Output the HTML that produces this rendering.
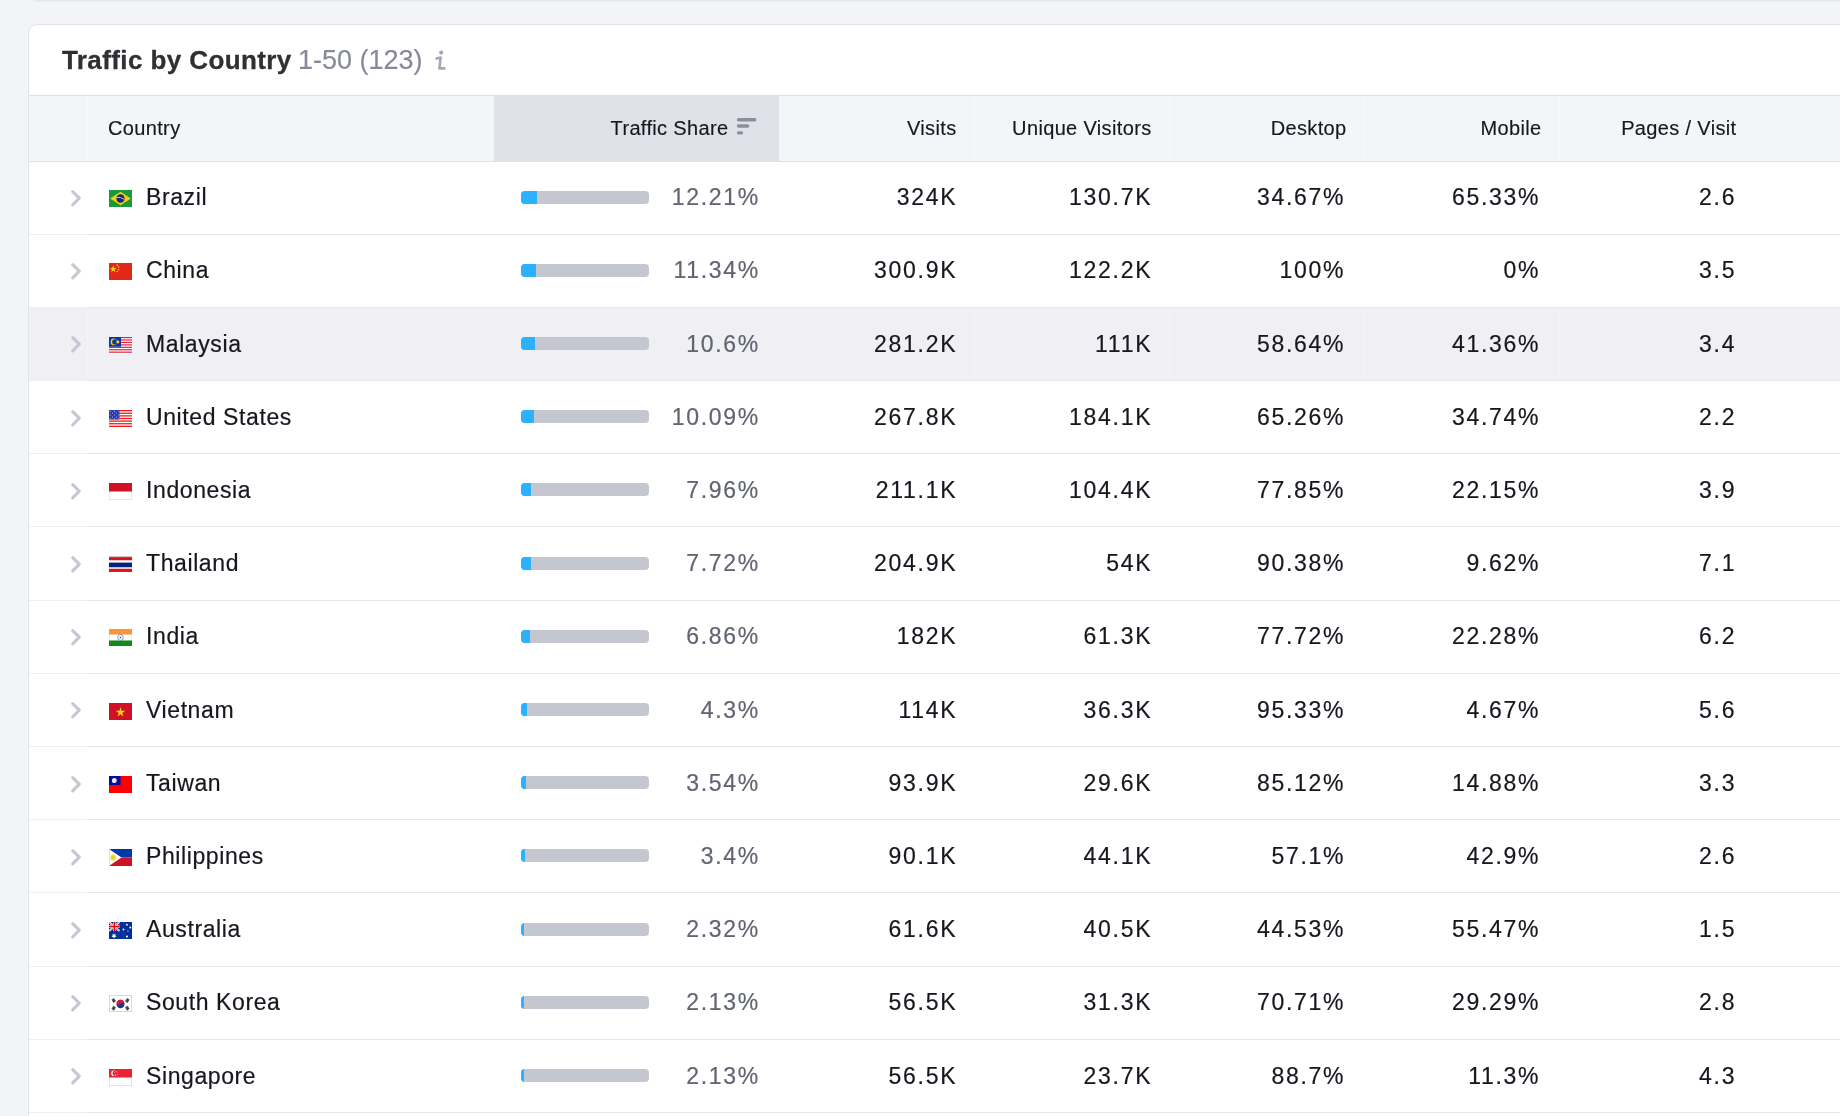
<!DOCTYPE html>
<html><head><meta charset="utf-8">
<style>
*{margin:0;padding:0;box-sizing:border-box}
html,body{width:1840px;height:1116px;overflow:hidden;background:#f3f4f8;}
.wrap{position:absolute;left:0;top:0;width:1840px;height:1116px;overflow:hidden;will-change:transform;font-family:"Liberation Sans",sans-serif;color:#17181f}
.abs{position:absolute}
.topcard{position:absolute;left:28px;top:-30px;width:1900px;height:30px;background:#f1f2f6;border-radius:9px;box-shadow:0 1px 2px rgba(60,70,100,.10)}
.card{position:absolute;left:28px;top:24px;width:1900px;height:1200px;background:#fff;border:1px solid #e2e3ea;border-radius:9px}
.t{position:absolute;white-space:nowrap;line-height:1}
.title{left:62px;top:46.5px;font-size:26px;font-weight:bold;color:#2f3033;letter-spacing:0.4px;-webkit-text-stroke:0.3px currentColor}
.sub{left:298px;top:46.6px;font-size:27px;color:#868a98;letter-spacing:0px;-webkit-text-stroke:0.15px currentColor}
.hdr{position:absolute;left:29px;top:95px;width:1811px;height:67px;background:#f4f5f9;border-top:1px solid #e0e1e8;border-bottom:1px solid #e0e1e8}
.hsort{position:absolute;left:494px;top:96px;width:285px;height:65px;background:#e1e1ea}
.hdiv{position:absolute;top:96px;width:1px;height:65px;background:#f9f9fb}
.ht{position:absolute;font-size:20px;line-height:20px;top:118px;color:#17181f;white-space:nowrap;letter-spacing:0.35px;-webkit-text-stroke:0.15px currentColor}
.row{position:absolute;left:29px;width:1811px}
.line{position:absolute;left:29px;width:1811px;height:1px;background:linear-gradient(90deg,#eeeff3 0,#eeeff3 58px,#e6e7ec 58px)}
.rdiv{position:absolute;width:1px;background:#f4f4f7}
.ct{position:absolute;font-size:23px;line-height:23px;white-space:nowrap;color:#17181f;-webkit-text-stroke:0.2px currentColor}
.num{text-align:right;width:200px;letter-spacing:1.7px}
.pct{color:#616572}
.bar{position:absolute;left:521px;width:128px;height:13px;border-radius:4px;background:#c4c7cf;overflow:hidden}
.bar i{position:absolute;left:0;top:0;bottom:0;background:#2bb1fe}
.flag{position:absolute;left:109px}
.chev{position:absolute;left:69px}
</style></head><body><div class="wrap">
<div class="topcard"></div>
<div class="card"></div>
<div class="t title">Traffic by Country</div>
<div class="t sub">1-50 (123)</div>
<svg class="abs" style="left:432px;top:49px" width="16" height="24" viewBox="0 0 16 24"><circle cx="9.2" cy="3.6" r="2.1" fill="#a3a7b3"/><path d="M4.6,9.6 L8.6,8.6 L7.4,19.4 L12.4,19.4" fill="none" stroke="#a3a7b3" stroke-width="2.6" stroke-linejoin="round" stroke-linecap="round"/></svg>
<div class="hdr"></div>
<div class="hsort"></div>

<div class="hdiv" style="left:87px"></div>
<div class="hdiv" style="left:974px"></div>
<div class="hdiv" style="left:1169px"></div>
<div class="hdiv" style="left:1364px"></div>
<div class="hdiv" style="left:1559px"></div>
<div class="hdiv" style="left:1754px"></div>
<div class="ht" style="left:108px">Country</div>
<div class="ht" style="left:528.5px;width:200px;text-align:right">Traffic Share</div>
<svg class="abs" style="left:735px;top:116px" width="24" height="20" viewBox="0 0 24 20"><g stroke="#8b8f9b" stroke-width="3.4" stroke-linecap="round"><line x1="3.5" y1="3.7" x2="19.7" y2="3.7"/><line x1="3.5" y1="10" x2="12.6" y2="10"/><line x1="3.5" y1="16.9" x2="6.4" y2="16.9"/></g></svg>
<div class="ht" style="left:656.5px;width:300px;text-align:right">Visits</div>
<div class="ht" style="left:851.5px;width:300px;text-align:right">Unique Visitors</div>
<div class="ht" style="left:1046.5px;width:300px;text-align:right">Desktop</div>
<div class="ht" style="left:1241.5px;width:300px;text-align:right">Mobile</div>
<div class="ht" style="left:1436.5px;width:300px;text-align:right">Pages / Visit</div>
<div class="line" style="top:233.50px"></div>
<svg class="chev" style="top:187.90px" width="14" height="19" viewBox="0 0 14 19"><path d="M3.7,3.6 L10.3,10.2 L3.7,16.8" fill="none" stroke="#c4c8d2" stroke-width="3.1" stroke-linecap="round" stroke-linejoin="round"/></svg>
<svg class="flag" style="top:190.20px" width="23" height="17" viewBox="0 0 23 16" preserveAspectRatio="none"><rect width="23" height="16" fill="#189a3a"/><polygon points="11.5,1.6 21.8,8 11.5,14.4 1.2,8" fill="#f8cf0e"/><circle cx="11.5" cy="8" r="4.1" fill="#1a237e"/><path d="M7.6,7 Q11.5,6.2 15.2,8.8" stroke="#b9cde6" stroke-width="0.9" fill="none"/></svg>
<div class="ct" style="left:146px;top:186.20px;letter-spacing:0.6px">Brazil</div>
<div class="bar" style="top:190.50px"><i style="width:15.63px"></i></div>
<div class="ct num pct" style="left:559.9px;top:186.20px">12.21%</div>
<div class="ct num" style="left:757.2px;top:186.20px">324K</div>
<div class="ct num" style="left:952.2px;top:186.20px">130.7K</div>
<div class="ct num" style="left:1145.2px;top:186.20px">34.67%</div>
<div class="ct num" style="left:1340.2px;top:186.20px">65.33%</div>
<div class="ct num" style="left:1536.2px;top:186.20px">2.6</div>
<div class="line" style="top:306.70px"></div>
<svg class="chev" style="top:261.10px" width="14" height="19" viewBox="0 0 14 19"><path d="M3.7,3.6 L10.3,10.2 L3.7,16.8" fill="none" stroke="#c4c8d2" stroke-width="3.1" stroke-linecap="round" stroke-linejoin="round"/></svg>
<svg class="flag" style="top:263.40px" width="23" height="17" viewBox="0 0 23 16" preserveAspectRatio="none"><rect width="23" height="16" fill="#e0281a"/><polygon points="4.2,2.2 5,4.6 7.5,4.6 5.5,6.1 6.3,8.5 4.2,7 2.1,8.5 2.9,6.1 0.9,4.6 3.4,4.6" fill="#ffde00"/><circle cx="8.2" cy="2" r="0.8" fill="#ffb400"/><circle cx="9.6" cy="3.7" r="0.8" fill="#ffb400"/><circle cx="9.6" cy="6.2" r="0.8" fill="#ffb400"/><circle cx="8.2" cy="8" r="0.8" fill="#ffb400"/></svg>
<div class="ct" style="left:146px;top:259.40px;letter-spacing:0.6px">China</div>
<div class="bar" style="top:263.70px"><i style="width:14.52px"></i></div>
<div class="ct num pct" style="left:559.9px;top:259.40px">11.34%</div>
<div class="ct num" style="left:757.2px;top:259.40px">300.9K</div>
<div class="ct num" style="left:952.2px;top:259.40px">122.2K</div>
<div class="ct num" style="left:1145.2px;top:259.40px">100%</div>
<div class="ct num" style="left:1340.2px;top:259.40px">0%</div>
<div class="ct num" style="left:1536.2px;top:259.40px">3.5</div>
<div class="row" style="top:307.70px;height:72.20px;background:#efeff4"></div>
<div class="line" style="top:379.90px"></div>
<div class="rdiv" style="left:87px;top:307.70px;height:72.20px"></div>
<div class="rdiv" style="left:974px;top:307.70px;height:72.20px"></div>
<div class="rdiv" style="left:1169px;top:307.70px;height:72.20px"></div>
<div class="rdiv" style="left:1364px;top:307.70px;height:72.20px"></div>
<div class="rdiv" style="left:1559px;top:307.70px;height:72.20px"></div>
<div class="rdiv" style="left:1754px;top:307.70px;height:72.20px"></div>
<svg class="chev" style="top:334.30px" width="14" height="19" viewBox="0 0 14 19"><path d="M3.7,3.6 L10.3,10.2 L3.7,16.8" fill="none" stroke="#c4c8d2" stroke-width="3.1" stroke-linecap="round" stroke-linejoin="round"/></svg>
<svg class="flag" style="top:336.60px" width="23" height="17" viewBox="0 0 23 16" preserveAspectRatio="none"><rect width="23" height="16" fill="#fff"/><rect y="0.00" width="23" height="1.14" fill="#dc2340"/><rect y="2.29" width="23" height="1.14" fill="#dc2340"/><rect y="4.57" width="23" height="1.14" fill="#dc2340"/><rect y="6.86" width="23" height="1.14" fill="#dc2340"/><rect y="9.14" width="23" height="1.14" fill="#dc2340"/><rect y="11.43" width="23" height="1.14" fill="#dc2340"/><rect y="13.71" width="23" height="1.14" fill="#dc2340"/><rect width="12" height="9.2" fill="#0b36a8"/><circle cx="4.8" cy="4.6" r="3.2" fill="#ffd000"/><circle cx="5.8" cy="4.6" r="2.6" fill="#0b36a8"/><circle cx="8.8" cy="4.6" r="1.5" fill="#ffd000"/></svg>
<div class="ct" style="left:146px;top:332.60px;letter-spacing:0.6px">Malaysia</div>
<div class="bar" style="top:336.90px"><i style="width:13.57px"></i></div>
<div class="ct num pct" style="left:559.9px;top:332.60px">10.6%</div>
<div class="ct num" style="left:757.2px;top:332.60px">281.2K</div>
<div class="ct num" style="left:952.2px;top:332.60px">111K</div>
<div class="ct num" style="left:1145.2px;top:332.60px">58.64%</div>
<div class="ct num" style="left:1340.2px;top:332.60px">41.36%</div>
<div class="ct num" style="left:1536.2px;top:332.60px">3.4</div>
<div class="line" style="top:453.10px"></div>
<svg class="chev" style="top:407.50px" width="14" height="19" viewBox="0 0 14 19"><path d="M3.7,3.6 L10.3,10.2 L3.7,16.8" fill="none" stroke="#c4c8d2" stroke-width="3.1" stroke-linecap="round" stroke-linejoin="round"/></svg>
<svg class="flag" style="top:409.80px" width="23" height="17" viewBox="0 0 23 16" preserveAspectRatio="none"><rect width="23" height="16" fill="#fff"/><rect y="0.00" width="23" height="1.23" fill="#f21c1c"/><rect y="2.46" width="23" height="1.23" fill="#f21c1c"/><rect y="4.92" width="23" height="1.23" fill="#f21c1c"/><rect y="7.38" width="23" height="1.23" fill="#f21c1c"/><rect y="9.85" width="23" height="1.23" fill="#f21c1c"/><rect y="12.31" width="23" height="1.23" fill="#f21c1c"/><rect y="14.77" width="23" height="1.23" fill="#f21c1c"/><rect width="10.5" height="9" fill="#2b3aa8"/><circle cx="1.20" cy="1.10" r="0.5" fill="#dfe3ff"/><circle cx="5.50" cy="1.10" r="0.5" fill="#dfe3ff"/><circle cx="9.80" cy="1.10" r="0.5" fill="#dfe3ff"/><circle cx="3.35" cy="2.90" r="0.5" fill="#dfe3ff"/><circle cx="7.65" cy="2.90" r="0.5" fill="#dfe3ff"/><circle cx="1.20" cy="4.70" r="0.5" fill="#dfe3ff"/><circle cx="5.50" cy="4.70" r="0.5" fill="#dfe3ff"/><circle cx="9.80" cy="4.70" r="0.5" fill="#dfe3ff"/><circle cx="3.35" cy="6.50" r="0.5" fill="#dfe3ff"/><circle cx="7.65" cy="6.50" r="0.5" fill="#dfe3ff"/><circle cx="1.20" cy="8.30" r="0.5" fill="#dfe3ff"/><circle cx="5.50" cy="8.30" r="0.5" fill="#dfe3ff"/><circle cx="9.80" cy="8.30" r="0.5" fill="#dfe3ff"/></svg>
<div class="ct" style="left:146px;top:405.80px;letter-spacing:0.6px">United States</div>
<div class="bar" style="top:410.10px"><i style="width:12.92px"></i></div>
<div class="ct num pct" style="left:559.9px;top:405.80px">10.09%</div>
<div class="ct num" style="left:757.2px;top:405.80px">267.8K</div>
<div class="ct num" style="left:952.2px;top:405.80px">184.1K</div>
<div class="ct num" style="left:1145.2px;top:405.80px">65.26%</div>
<div class="ct num" style="left:1340.2px;top:405.80px">34.74%</div>
<div class="ct num" style="left:1536.2px;top:405.80px">2.2</div>
<div class="line" style="top:526.30px"></div>
<svg class="chev" style="top:480.70px" width="14" height="19" viewBox="0 0 14 19"><path d="M3.7,3.6 L10.3,10.2 L3.7,16.8" fill="none" stroke="#c4c8d2" stroke-width="3.1" stroke-linecap="round" stroke-linejoin="round"/></svg>
<svg class="flag" style="top:483.00px" width="23" height="17" viewBox="0 0 23 16" preserveAspectRatio="none"><rect width="23" height="16" fill="#fff" stroke="#cfd2d9" stroke-width="1"/><rect width="23" height="8" fill="#d11124"/></svg>
<div class="ct" style="left:146px;top:479.00px;letter-spacing:0.6px">Indonesia</div>
<div class="bar" style="top:483.30px"><i style="width:10.19px"></i></div>
<div class="ct num pct" style="left:559.9px;top:479.00px">7.96%</div>
<div class="ct num" style="left:757.2px;top:479.00px">211.1K</div>
<div class="ct num" style="left:952.2px;top:479.00px">104.4K</div>
<div class="ct num" style="left:1145.2px;top:479.00px">77.85%</div>
<div class="ct num" style="left:1340.2px;top:479.00px">22.15%</div>
<div class="ct num" style="left:1536.2px;top:479.00px">3.9</div>
<div class="line" style="top:599.50px"></div>
<svg class="chev" style="top:553.90px" width="14" height="19" viewBox="0 0 14 19"><path d="M3.7,3.6 L10.3,10.2 L3.7,16.8" fill="none" stroke="#c4c8d2" stroke-width="3.1" stroke-linecap="round" stroke-linejoin="round"/></svg>
<svg class="flag" style="top:556.20px" width="23" height="17" viewBox="0 0 23 16" preserveAspectRatio="none"><rect width="23" height="16" fill="#fff"/><rect y="1" width="23" height="3" fill="#dd111a"/><rect y="12" width="23" height="3" fill="#dd111a"/><rect y="6.2" width="23" height="4.4" fill="#00237e"/><rect width="23" height="1" fill="#c9cbd2"/></svg>
<div class="ct" style="left:146px;top:552.20px;letter-spacing:0.6px">Thailand</div>
<div class="bar" style="top:556.50px"><i style="width:9.88px"></i></div>
<div class="ct num pct" style="left:559.9px;top:552.20px">7.72%</div>
<div class="ct num" style="left:757.2px;top:552.20px">204.9K</div>
<div class="ct num" style="left:952.2px;top:552.20px">54K</div>
<div class="ct num" style="left:1145.2px;top:552.20px">90.38%</div>
<div class="ct num" style="left:1340.2px;top:552.20px">9.62%</div>
<div class="ct num" style="left:1536.2px;top:552.20px">7.1</div>
<div class="line" style="top:672.70px"></div>
<svg class="chev" style="top:627.10px" width="14" height="19" viewBox="0 0 14 19"><path d="M3.7,3.6 L10.3,10.2 L3.7,16.8" fill="none" stroke="#c4c8d2" stroke-width="3.1" stroke-linecap="round" stroke-linejoin="round"/></svg>
<svg class="flag" style="top:629.40px" width="23" height="17" viewBox="0 0 23 16" preserveAspectRatio="none"><rect width="23" height="16" fill="#fff" stroke="#d4d6dc" stroke-width="0.8"/><rect width="23" height="5.2" fill="#ff9530"/><rect y="10.8" width="23" height="5.2" fill="#138a12"/><circle cx="11.5" cy="8" r="2.8" fill="none" stroke="#6b8fd8" stroke-width="0.9"/><circle cx="11.5" cy="8" r="0.8" fill="#2a4fb0"/></svg>
<div class="ct" style="left:146px;top:625.40px;letter-spacing:0.6px">India</div>
<div class="bar" style="top:629.70px"><i style="width:8.78px"></i></div>
<div class="ct num pct" style="left:559.9px;top:625.40px">6.86%</div>
<div class="ct num" style="left:757.2px;top:625.40px">182K</div>
<div class="ct num" style="left:952.2px;top:625.40px">61.3K</div>
<div class="ct num" style="left:1145.2px;top:625.40px">77.72%</div>
<div class="ct num" style="left:1340.2px;top:625.40px">22.28%</div>
<div class="ct num" style="left:1536.2px;top:625.40px">6.2</div>
<div class="line" style="top:745.90px"></div>
<svg class="chev" style="top:700.30px" width="14" height="19" viewBox="0 0 14 19"><path d="M3.7,3.6 L10.3,10.2 L3.7,16.8" fill="none" stroke="#c4c8d2" stroke-width="3.1" stroke-linecap="round" stroke-linejoin="round"/></svg>
<svg class="flag" style="top:702.60px" width="23" height="17" viewBox="0 0 23 16" preserveAspectRatio="none"><rect width="23" height="16" fill="#d01126"/><polygon points="11.5,3.8 12.6,7.2 16.2,7.2 13.3,9.3 14.4,12.6 11.5,10.6 8.6,12.6 9.7,9.3 6.8,7.2 10.4,7.2" fill="#ffd514"/></svg>
<div class="ct" style="left:146px;top:698.60px;letter-spacing:0.6px">Vietnam</div>
<div class="bar" style="top:702.90px"><i style="width:5.50px"></i></div>
<div class="ct num pct" style="left:559.9px;top:698.60px">4.3%</div>
<div class="ct num" style="left:757.2px;top:698.60px">114K</div>
<div class="ct num" style="left:952.2px;top:698.60px">36.3K</div>
<div class="ct num" style="left:1145.2px;top:698.60px">95.33%</div>
<div class="ct num" style="left:1340.2px;top:698.60px">4.67%</div>
<div class="ct num" style="left:1536.2px;top:698.60px">5.6</div>
<div class="line" style="top:819.10px"></div>
<svg class="chev" style="top:773.50px" width="14" height="19" viewBox="0 0 14 19"><path d="M3.7,3.6 L10.3,10.2 L3.7,16.8" fill="none" stroke="#c4c8d2" stroke-width="3.1" stroke-linecap="round" stroke-linejoin="round"/></svg>
<svg class="flag" style="top:775.80px" width="23" height="17" viewBox="0 0 23 16" preserveAspectRatio="none"><rect width="23" height="16" fill="#fe0000"/><rect width="11.5" height="8.5" fill="#000c9c"/><circle cx="5.3" cy="4.3" r="2.4" fill="#e8ecf8"/></svg>
<div class="ct" style="left:146px;top:771.80px;letter-spacing:0.6px">Taiwan</div>
<div class="bar" style="top:776.10px"><i style="width:4.53px"></i></div>
<div class="ct num pct" style="left:559.9px;top:771.80px">3.54%</div>
<div class="ct num" style="left:757.2px;top:771.80px">93.9K</div>
<div class="ct num" style="left:952.2px;top:771.80px">29.6K</div>
<div class="ct num" style="left:1145.2px;top:771.80px">85.12%</div>
<div class="ct num" style="left:1340.2px;top:771.80px">14.88%</div>
<div class="ct num" style="left:1536.2px;top:771.80px">3.3</div>
<div class="line" style="top:892.30px"></div>
<svg class="chev" style="top:846.70px" width="14" height="19" viewBox="0 0 14 19"><path d="M3.7,3.6 L10.3,10.2 L3.7,16.8" fill="none" stroke="#c4c8d2" stroke-width="3.1" stroke-linecap="round" stroke-linejoin="round"/></svg>
<svg class="flag" style="top:849.00px" width="23" height="17" viewBox="0 0 23 16" preserveAspectRatio="none"><rect width="23" height="8" fill="#0038a8"/><rect y="8" width="23" height="8" fill="#ce1126"/><polygon points="0,0 12.5,8 0,16" fill="#fff"/><circle cx="4.2" cy="8" r="2.9" fill="#fcd84a"/><circle cx="4.2" cy="8" r="1.6" fill="#fdc900"/><rect width="0.8" height="16" fill="#d8dae0"/></svg>
<div class="ct" style="left:146px;top:845.00px;letter-spacing:0.6px">Philippines</div>
<div class="bar" style="top:849.30px"><i style="width:4.35px"></i></div>
<div class="ct num pct" style="left:559.9px;top:845.00px">3.4%</div>
<div class="ct num" style="left:757.2px;top:845.00px">90.1K</div>
<div class="ct num" style="left:952.2px;top:845.00px">44.1K</div>
<div class="ct num" style="left:1145.2px;top:845.00px">57.1%</div>
<div class="ct num" style="left:1340.2px;top:845.00px">42.9%</div>
<div class="ct num" style="left:1536.2px;top:845.00px">2.6</div>
<div class="line" style="top:965.50px"></div>
<svg class="chev" style="top:919.90px" width="14" height="19" viewBox="0 0 14 19"><path d="M3.7,3.6 L10.3,10.2 L3.7,16.8" fill="none" stroke="#c4c8d2" stroke-width="3.1" stroke-linecap="round" stroke-linejoin="round"/></svg>
<svg class="flag" style="top:922.20px" width="23" height="17" viewBox="0 0 23 16" preserveAspectRatio="none"><rect width="23" height="16" fill="#00309a"/><g><rect width="10.5" height="8.5" fill="#00309a"/><path d="M0,0 L10.5,8.5 M10.5,0 L0,8.5" stroke="#fff" stroke-width="1.8"/><path d="M0,0 L10.5,8.5 M10.5,0 L0,8.5" stroke="#e22" stroke-width="0.6"/><rect x="4" width="2.5" height="8.5" fill="#fff"/><rect y="3" width="10.5" height="2.5" fill="#fff"/><rect x="4.5" width="1.5" height="8.5" fill="#e00"/><rect y="3.5" width="10.5" height="1.5" fill="#e00"/></g><polygon points="5,10.4 5.6,11.9 7.1,11.6 6.3,12.9 7.4,14 5.9,14.2 5,15.5 4.1,14.2 2.6,14 3.7,12.9 2.9,11.6 4.4,11.9" fill="#fff"/><circle cx="18" cy="2.6" r="0.9" fill="#fff"/><circle cx="21.3" cy="5.2" r="1" fill="#fff"/><circle cx="14.5" cy="7" r="0.9" fill="#fff"/><circle cx="19" cy="8.5" r="0.6" fill="#fff"/><circle cx="18" cy="13.6" r="1" fill="#fff"/></svg>
<div class="ct" style="left:146px;top:918.20px;letter-spacing:0.6px">Australia</div>
<div class="bar" style="top:922.50px"><i style="width:2.97px"></i></div>
<div class="ct num pct" style="left:559.9px;top:918.20px">2.32%</div>
<div class="ct num" style="left:757.2px;top:918.20px">61.6K</div>
<div class="ct num" style="left:952.2px;top:918.20px">40.5K</div>
<div class="ct num" style="left:1145.2px;top:918.20px">44.53%</div>
<div class="ct num" style="left:1340.2px;top:918.20px">55.47%</div>
<div class="ct num" style="left:1536.2px;top:918.20px">1.5</div>
<div class="line" style="top:1038.70px"></div>
<svg class="chev" style="top:993.10px" width="14" height="19" viewBox="0 0 14 19"><path d="M3.7,3.6 L10.3,10.2 L3.7,16.8" fill="none" stroke="#c4c8d2" stroke-width="3.1" stroke-linecap="round" stroke-linejoin="round"/></svg>
<svg class="flag" style="top:995.40px" width="23" height="17" viewBox="0 0 23 16" preserveAspectRatio="none"><rect width="23" height="16" fill="#fff" stroke="#c8cbd3" stroke-width="1.4"/><circle cx="11.5" cy="8.5" r="4" fill="#0f3a8f"/><path d="M7.5,8.5 A4,4 0 0 1 15.5,8.5 Q13.5,6.5 11.5,8.5 Q9.5,10.5 7.5,8.5Z" fill="#e01330"/><g fill="#454a44"><rect x="3.2" y="3.4" width="3" height="3.6" transform="rotate(-35 4.7 5.2)"/><rect x="16.8" y="3.4" width="3" height="3.6" transform="rotate(35 18.3 5.2)"/><rect x="3.2" y="10.6" width="3" height="3.6" transform="rotate(35 4.7 12.4)"/><rect x="16.8" y="10.6" width="3" height="3.6" transform="rotate(-35 18.3 12.4)"/></g></svg>
<div class="ct" style="left:146px;top:991.40px;letter-spacing:0.6px">South Korea</div>
<div class="bar" style="top:995.70px"><i style="width:2.73px"></i></div>
<div class="ct num pct" style="left:559.9px;top:991.40px">2.13%</div>
<div class="ct num" style="left:757.2px;top:991.40px">56.5K</div>
<div class="ct num" style="left:952.2px;top:991.40px">31.3K</div>
<div class="ct num" style="left:1145.2px;top:991.40px">70.71%</div>
<div class="ct num" style="left:1340.2px;top:991.40px">29.29%</div>
<div class="ct num" style="left:1536.2px;top:991.40px">2.8</div>
<div class="line" style="top:1111.90px"></div>
<svg class="chev" style="top:1066.30px" width="14" height="19" viewBox="0 0 14 19"><path d="M3.7,3.6 L10.3,10.2 L3.7,16.8" fill="none" stroke="#c4c8d2" stroke-width="3.1" stroke-linecap="round" stroke-linejoin="round"/></svg>
<svg class="flag" style="top:1068.60px" width="23" height="17" viewBox="0 0 23 16" preserveAspectRatio="none"><rect width="23" height="16" fill="#fff" stroke="#c8cbd3" stroke-width="1"/><rect width="23" height="8" fill="#ea2233"/><circle cx="4.9" cy="4" r="2.7" fill="#fff"/><circle cx="6" cy="4" r="2.4" fill="#ea2233"/><g fill="#fff"><circle cx="7.2" cy="2.4" r="0.45"/><circle cx="8.8" cy="3.4" r="0.45"/><circle cx="8.3" cy="5.2" r="0.45"/><circle cx="6.3" cy="5.2" r="0.45"/><circle cx="5.8" cy="3.4" r="0.45"/></g></svg>
<div class="ct" style="left:146px;top:1064.60px;letter-spacing:0.6px">Singapore</div>
<div class="bar" style="top:1068.90px"><i style="width:2.73px"></i></div>
<div class="ct num pct" style="left:559.9px;top:1064.60px">2.13%</div>
<div class="ct num" style="left:757.2px;top:1064.60px">56.5K</div>
<div class="ct num" style="left:952.2px;top:1064.60px">23.7K</div>
<div class="ct num" style="left:1145.2px;top:1064.60px">88.7%</div>
<div class="ct num" style="left:1340.2px;top:1064.60px">11.3%</div>
<div class="ct num" style="left:1536.2px;top:1064.60px">4.3</div>
</div></body></html>
